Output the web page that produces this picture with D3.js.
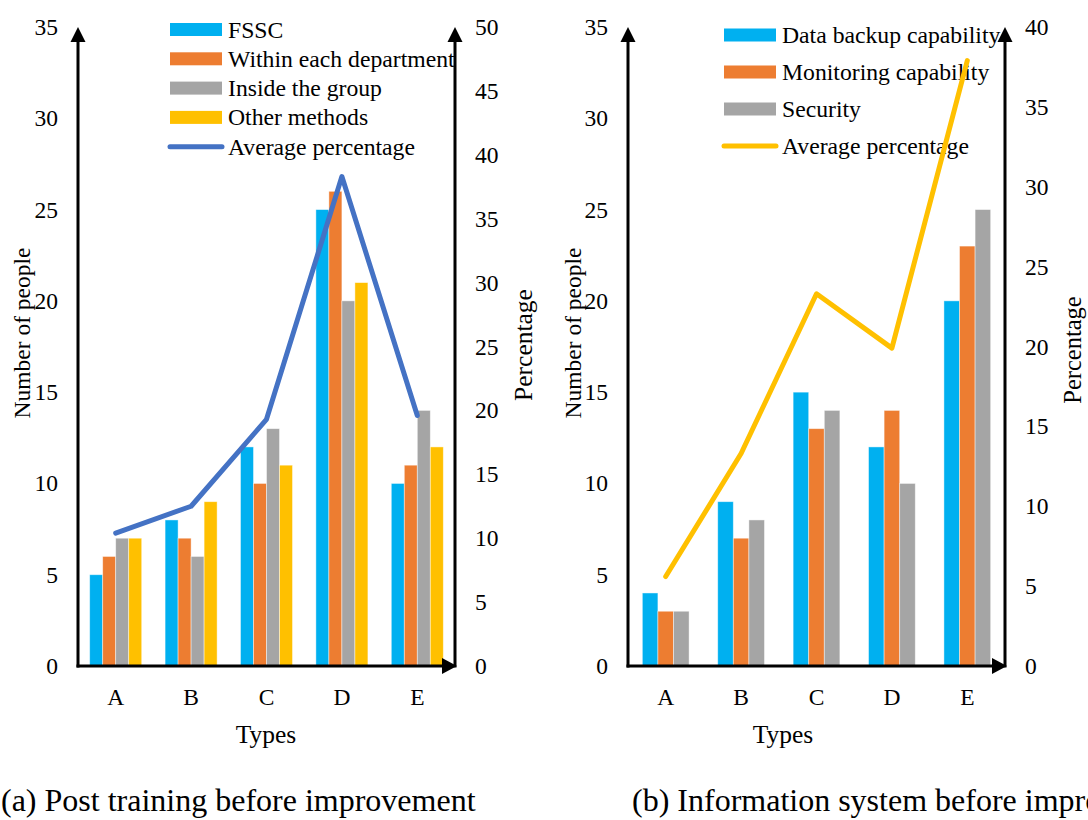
<!DOCTYPE html>
<html>
<head>
<meta charset="utf-8">
<script src="https://cdn.jsdelivr.net/npm/d3@7"></script>
<style>
  html, body { margin: 0; padding: 0; background: #fff; }
  svg { display: block; }
  text { font-family: "Liberation Serif", "Times New Roman", serif; fill: #000; }
</style>
</head>
<body>
<svg id="chart" width="1088" height="820"></svg>
<script>
// Categories shared by both panels
const categories = ["A", "B", "C", "D", "E"];

// Panel (a): post training before improvement
const trainFSSC = [5, 8, 12, 25, 10];
const trainDepartment = [6, 7, 10, 26, 11];
const trainGroup = [7, 6, 13, 20, 14];
const trainOther = [7, 9, 11, 21, 12];
const trainAvgPct = [10.4, 12.5, 19.3, 38.3, 19.6];
const trainSeriesNames = ["FSSC", "Within each department", "Inside the group", "Other methods"];
const trainCountTicks = [0, 5, 10, 15, 20, 25, 30, 35];
const trainPctTicks = [0, 5, 10, 15, 20, 25, 30, 35, 40, 45, 50];

// Panel (b): information system before improvement
const sysBackup = [4, 9, 15, 12, 20];
const sysMonitoring = [3, 7, 13, 14, 23];
const sysSecurity = [3, 8, 14, 10, 25];
const sysAvgPct = [5.6, 13.3, 23.3, 19.9, 37.9];
const sysSeriesNames = ["Data backup capability", "Monitoring capability", "Security"];
const sysCountTicks = [0, 5, 10, 15, 20, 25, 30, 35];
const sysPctTicks = [0, 5, 10, 15, 20, 25, 30, 35, 40];

const lineName = "Average percentage";

const svg = d3.select("#chart");

function drawPanel(cfg) {
  const g = svg.append("g");
  const y0 = 666, yTop = 27;

  const x = d3.scaleBand().domain(categories).range([cfg.left, cfg.right]).padding(0);
  const groupW = x.bandwidth() * cfg.groupFrac;
  const xs = d3.scaleBand().domain(d3.range(cfg.series.length)).range([0, groupW]).padding(0);
  const yL = d3.scaleLinear().domain([0, cfg.countMax]).range([y0, yTop]);
  const yR = d3.scaleLinear().domain([0, cfg.pctMax]).range([y0, yTop]);

  // Grouped bars
  cfg.series.forEach((vals, si) => {
    g.append("g").selectAll("rect")
      .data(vals)
      .join("rect")
      .attr("x", (d, i) => x(categories[i]) + (x.bandwidth() - groupW) / 2 + xs(si))
      .attr("y", d => yL(d))
      .attr("width", xs.bandwidth())
      .attr("height", d => yL(0) - yL(d))
      .attr("fill", cfg.colors[si])
      .attr("stroke", "#fff")
      .attr("stroke-opacity", 0.55)
      .attr("stroke-width", 0.8);
  });

  // Legend
  const lg = g.append("g");
  cfg.names.forEach((name, i) => {
    const cy = cfg.legendY + i * cfg.legendStep;
    lg.append("rect")
      .attr("x", cfg.legendX).attr("y", cy - 6.5)
      .attr("width", cfg.swatchW).attr("height", 13)
      .attr("fill", cfg.colors[i]);
    lg.append("text")
      .attr("x", cfg.legendX + cfg.swatchW + 6).attr("y", cy)
      .attr("dominant-baseline", "central")
      .attr("font-size", 23.7)
      .text(name);
  });
  const ly = cfg.legendY + cfg.names.length * cfg.legendStep;
  lg.append("line")
    .attr("x1", cfg.legendX).attr("x2", cfg.legendX + cfg.swatchW)
    .attr("y1", ly).attr("y2", ly)
    .attr("stroke", cfg.lineColor).attr("stroke-width", 5)
    .attr("stroke-linecap", "round");
  lg.append("text")
    .attr("x", cfg.legendX + cfg.swatchW + 6).attr("y", ly)
    .attr("dominant-baseline", "central")
    .attr("font-size", 23.7)
    .text(lineName);

  // Average percentage line on the secondary axis
  const line = d3.line()
    .x((d, i) => x(categories[i]) + x.bandwidth() / 2)
    .y(d => yR(d));
  g.append("path")
    .datum(cfg.pct)
    .attr("d", line)
    .attr("fill", "none")
    .attr("stroke", cfg.lineColor)
    .attr("stroke-width", 5)
    .attr("stroke-linejoin", "round")
    .attr("stroke-linecap", "round");

  // Axes: left count axis, right percentage axis, category axis
  const axL = d3.axisLeft(yL).tickValues(cfg.countTicks).tickSize(0).tickPadding(20);
  const axR = d3.axisRight(yR).tickValues(cfg.pctTicks).tickSize(0).tickPadding(20);
  const axB = d3.axisBottom(x).tickSize(0).tickPadding(22);

  const styleAxis = sel => {
    sel.select(".domain").remove();
    sel.selectAll("text").attr("font-size", 23.5).attr("font-family", "Liberation Serif").attr("fill", "#000");
  };
  g.append("g").attr("transform", `translate(${cfg.left},0)`).call(axL).call(styleAxis);
  g.append("g").attr("transform", `translate(${cfg.right},0)`).call(axR).call(styleAxis);
  g.append("g").attr("transform", `translate(0,${y0})`).call(axB).call(styleAxis);

  // Axis lines with arrowheads
  const aw = 7.5, al = 15;
  const ag = g.append("g");
  [cfg.left, cfg.right].forEach(ax => {
    ag.append("line").attr("x1", ax).attr("x2", ax).attr("y1", y0 + 1.5).attr("y2", yTop + al - 1)
      .attr("stroke", "#000").attr("stroke-width", 3);
    ag.append("path")
      .attr("d", `M${ax - aw},${yTop + al} L${ax},${yTop} L${ax + aw},${yTop + al} Z`)
      .attr("fill", "#000");
  });
  ag.append("line").attr("x1", cfg.left - 1.5).attr("x2", cfg.right - al + 2).attr("y1", y0).attr("y2", y0)
    .attr("stroke", "#000").attr("stroke-width", 3);
  ag.append("path")
    .attr("d", `M${cfg.right - al + 2},${y0 - 8} L${cfg.right + 2},${y0} L${cfg.right - al + 2},${y0 + 8} Z`)
    .attr("fill", "#000");

  // Titles
  g.append("text")
    .attr("transform", `translate(${cfg.leftTitleX},${cfg.leftTitleY}) rotate(-90)`)
    .attr("text-anchor", "middle").attr("dominant-baseline", "central")
    .attr("font-size", 23.5).text("Number of people");
  g.append("text")
    .attr("transform", `translate(${cfg.rightTitleX},${cfg.rightTitleY}) rotate(-90)`)
    .attr("text-anchor", "middle").attr("dominant-baseline", "central")
    .attr("font-size", cfg.rightTitleSize).text("Percentage");
  g.append("text")
    .attr("x", cfg.typesX).attr("y", 743)
    .attr("text-anchor", "middle")
    .attr("font-size", 25.5).text("Types");
  g.append("text")
    .attr("x", cfg.captionX).attr("y", 811)
    .attr("font-size", 32).text(cfg.caption);
}

const barColors = ["#00B0F0", "#ED7D31", "#A5A5A5", "#FFC000"];

drawPanel({
  left: 78, right: 455,
  series: [trainFSSC, trainDepartment, trainGroup, trainOther],
  names: trainSeriesNames,
  colors: barColors,
  pct: trainAvgPct,
  lineColor: "#4472C4",
  countMax: 35, pctMax: 50,
  countTicks: trainCountTicks, pctTicks: trainPctTicks,
  groupFrac: 0.69,
  legendX: 170, legendY: 29.5, legendStep: 29.3, swatchW: 52,
  leftTitleX: 22, leftTitleY: 333,
  rightTitleX: 523, rightTitleY: 345, rightTitleSize: 25.5,
  typesX: 266,
  captionX: 1, caption: "(a) Post training before improvement"
});

drawPanel({
  left: 628, right: 1005,
  series: [sysBackup, sysMonitoring, sysSecurity],
  names: sysSeriesNames,
  colors: barColors,
  pct: sysAvgPct,
  lineColor: "#FFC000",
  countMax: 35, pctMax: 40,
  countTicks: sysCountTicks, pctTicks: sysPctTicks,
  groupFrac: 0.62,
  legendX: 724, legendY: 35, legendStep: 37, swatchW: 52,
  leftTitleX: 573, leftTitleY: 333,
  rightTitleX: 1072, rightTitleY: 350, rightTitleSize: 24.5,
  typesX: 783,
  captionX: 632, caption: "(b) Information system before improvement"
});
</script>
</body>
</html>
